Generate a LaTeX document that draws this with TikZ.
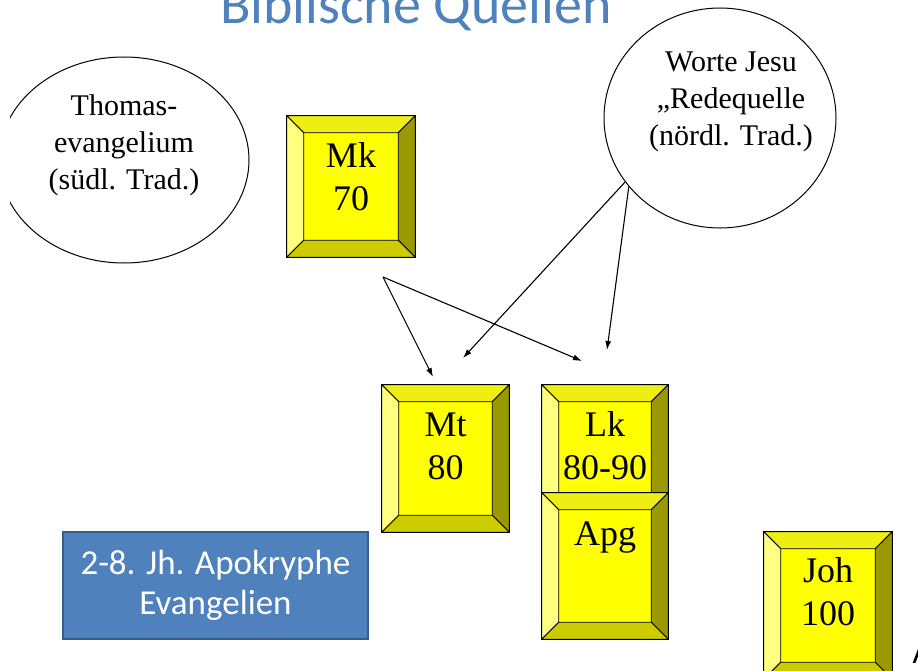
\documentclass[tikz,border=0pt]{standalone}
\usepackage{fontspec}
\setmainfont{Liberation Serif}
\newfontfamily\calibri{Carlito}
\usepackage{tikz}
\usetikzlibrary{calc, arrows.meta, shapes}
\tikzset{>={Latex[length=9pt, width=6pt]}}
\definecolor{keyface}{RGB}{255, 255, 0}
\definecolor{keytop}{RGB}{238, 238, 20}
\definecolor{keyleft}{RGB}{255, 255, 128}
\definecolor{keyright}{RGB}{153, 153, 0}
\definecolor{keybottom}{RGB}{204, 204, 0}
\definecolor{slideblue}{RGB}{79, 129, 189}
\definecolor{slideblueline}{RGB}{56, 93, 138}

\newcommand{\keybev}{17}
% beveled key: name, centre, width, height
\newcommand{\bevelkey}[4]{%
  \node[key, minimum width=#3, minimum height=#4] (#1) at (#2) {};
  \filldraw[bevel, fill=keytop] (#1.north west) -- (#1.north east) -- ($(#1.north east)+(-\keybev,\keybev)$) -- ($(#1.north west)+(\keybev,\keybev)$) -- cycle;
  \filldraw[bevel, fill=keyleft] (#1.north west) -- ($(#1.north west)+(\keybev,\keybev)$) -- ($(#1.south west)+(\keybev,-\keybev)$) -- (#1.south west) -- cycle;
  \filldraw[bevel, fill=keyright] (#1.north east) -- ($(#1.north east)+(-\keybev,\keybev)$) -- ($(#1.south east)+(-\keybev,-\keybev)$) -- (#1.south east) -- cycle;
  \filldraw[bevel, fill=keybottom] (#1.south west) -- ($(#1.south west)+(\keybev,-\keybev)$) -- ($(#1.south east)+(-\keybev,-\keybev)$) -- (#1.south east) -- cycle;
  \draw[bevel] (#1.north west) rectangle (#1.south east);
}

\tikzset{
  key/.style={fill=keyface, inner sep=0pt},
  bevel/.style={draw=black, line width=0.8pt, line join=round},
  keylabel/.style={font=\fontsize{36}{43}\selectfont, align=center, anchor=north, inner sep=0pt},
  oval/.style={draw, ellipse, line width=1pt, inner sep=0pt},
  ovallabel/.style={font=\fontsize{30}{37}\selectfont, align=center, anchor=north, inner sep=0pt},
  apobox/.style={draw=slideblueline, fill=slideblue, line width=1.5pt, text=white, align=center,
    font=\calibri\fontsize{35}{40}\selectfont, minimum width=305pt, minimum height=107pt, inner sep=0pt},
  link/.style={->, line width=1.1pt}
}

\begin{document}
\begin{tikzpicture}[x=1pt, y=-1pt]
\useasboundingbox (0,0) rectangle (918,671);
\fill[white] (0,0) rectangle (918,671);

\node[font=\calibri\fontsize{56}{60}\selectfont, text=slideblue, anchor=base, inner sep=0pt] (title) at (416,24) {Biblische Quellen};

\begin{scope}
\clip (10,0) rectangle (918,671);
\node[oval, minimum width=250pt, minimum height=206pt] (thomas) at (124,160) {};
\end{scope}
\node[ovallabel] (thomasText) at (124,89) {\strut Thomas-\\evangelium\\(südl. Trad.)};

\node[oval, minimum width=232pt, minimum height=220pt] (worte) at (720,118) {};
\node[ovallabel] (worteText) at (731,45) {\strut Worte Jesu\\„Redequelle\\(nördl. Trad.)};

\bevelkey{mk}{351,186.5}{128pt}{141pt}
\node[keylabel] (mkText) at ($(mk.north)+(0,21)$) {\strut Mk\\70};

\bevelkey{mt}{445.5,458.5}{127pt}{147pt}
\node[keylabel] (mtText) at ($(mt.north)+(0,21)$) {\strut Mt\\80};

\bevelkey{lk}{605,458.5}{126pt}{147pt}
\node[keylabel] (lkText) at ($(lk.north)+(0,21)$) {\strut Lk\\80-90};

\bevelkey{apg}{605,566}{126pt}{146pt}
\node[keylabel] (apgText) at ($(apg.north)+(0,22)$) {\strut Apg};

\bevelkey{joh}{828,605.5}{128pt}{147pt}
\node[keylabel] (johText) at ($(joh.north)+(0,20)$) {\strut Joh\\100};

\node[apobox] (apo) at (215.5,585.5) {2-8. Jh. Apokryphe\\Evangelien};

\coordinate (mkout) at (383,277);
\coordinate (mtinA) at (433,377);
\coordinate (lkinA) at (582,361);
\coordinate (mtinB) at (463,358);
\coordinate (lkinB) at (607,350);
\draw[link] (mkout) -- (mtinA);
\draw[link] (mkout) -- (lkinA);
\draw[link] (worte.214) -- (mtinB);
\draw[link] (worte.217) -- (lkinB);

\node[font=\calibri\fontsize{32}{34}\selectfont, anchor=base west, inner sep=0pt] (pagemark) at (912.5,663) {A};
\end{tikzpicture}
\end{document}
